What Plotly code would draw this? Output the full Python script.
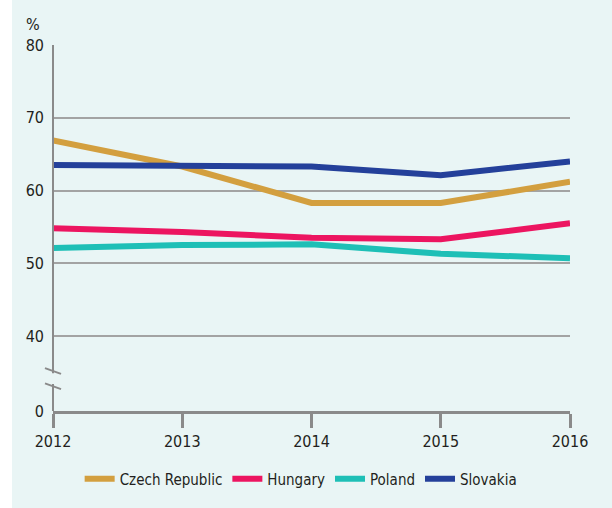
import plotly.graph_objects as go

years = [2012, 2013, 2014, 2015, 2016]
czech = [66.9, 63.3, 58.3, 58.3, 61.2]
hungary = [54.8, 54.3, 53.5, 53.3, 55.5]
poland = [52.1, 52.5, 52.6, 51.3, 50.7]
slovakia = [63.5, 63.4, 63.3, 62.1, 64.0]

series_names = ["Czech Republic", "Hungary", "Poland", "Slovakia"]
series_values = [czech, hungary, poland, slovakia]
colors = ["#D39F3F", "#EC1560", "#1EBFB6", "#24409A"]

ytick_vals = [29.7, 40, 50, 60, 70, 80]
ytick_text = ["0", "40", "50", "60", "70", "80"]

FONT = "DejaVu Sans Condensed, Liberation Sans Narrow, sans-serif"
BG = "#E9F5F5"
AX = "#8A8A8A"
TXT = "#231F20"

fig = go.Figure()
for name, vals, col in zip(series_names, series_values, colors):
    fig.add_trace(go.Scatter(x=years, y=vals, name=name, mode="lines",
                             line=dict(color=col, width=6)))

fig.update_layout(
    width=612, height=508,
    margin=dict(l=53, r=42, t=45, b=97),
    paper_bgcolor=BG, plot_bgcolor=BG,
    font=dict(family=FONT, size=16, color=TXT),
    showlegend=True,
    legend=dict(orientation="h", x=0.48, xanchor="center", y=-0.186, yanchor="middle",
                font=dict(size=15, family=FONT, color=TXT),
                itemwidth=30, bgcolor="rgba(0,0,0,0)"),
    xaxis=dict(range=[2012, 2016], tickvals=years, ticktext=[str(y) for y in years],
               showgrid=False, zeroline=False, showline=True, linecolor=AX, linewidth=3,
               ticks="outside", ticklen=14, tickwidth=3, tickcolor=AX,
               tickfont=dict(size=16, family=FONT, color=TXT)),
    yaxis=dict(range=[29.7, 80], tickvals=ytick_vals, ticktext=ytick_text,
               showgrid=True, gridcolor="#A3A3A3", gridwidth=1.5,
               zeroline=False, showline=False, ticks="", ticklabelstandoff=8,
               tickfont=dict(size=16, family=FONT, color=TXT)),
)

# white strip at left edge
fig.add_shape(type="rect", xref="paper", yref="paper", x0=-0.2, x1=-0.0793,
              y0=-0.5, y1=1.3, fillcolor="white", line=dict(width=0), layer="below")

# y-axis line with break
fig.add_shape(type="line", xref="paper", yref="y", x0=0, x1=0, y0=80, y1=34.9,
              line=dict(color=AX, width=2))
fig.add_shape(type="line", xref="paper", yref="y", x0=0, x1=0, y0=33.4, y1=29.7,
              line=dict(color=AX, width=2))
fig.add_shape(type="line", xref="paper", yref="y", x0=-0.0155, x1=0.0155, y0=35.6, y1=34.8,
              line=dict(color=AX, width=2))
fig.add_shape(type="line", xref="paper", yref="y", x0=-0.0155, x1=0.0155, y0=33.5, y1=32.7,
              line=dict(color=AX, width=2))

fig.add_annotation(text="%", xref="paper", yref="paper", x=-0.039, y=1.055,
                   xanchor="center", yanchor="middle", showarrow=False,
                   font=dict(size=16, family=FONT, color=TXT))

fig.write_html("out.html", config={"displayModeBar": False},
               post_script="document.body.style.margin='0';document.body.style.background='%s';" % BG)
